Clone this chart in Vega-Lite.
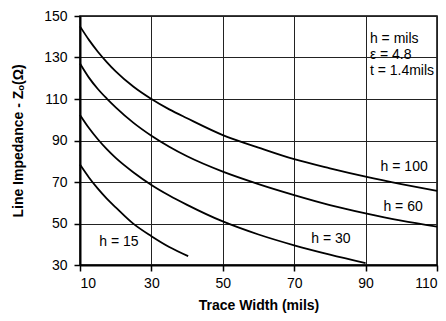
{
  "$schema": "https://vega.github.io/schema/vega-lite/v6.json",
  "width": 357,
  "height": 249,
  "autosize": {"type": "none"},
  "padding": {"left": 80, "top": 16, "right": 9, "bottom": 56},
  "background": "white",
  "config": {
    "font": "Liberation Sans",
    "view": {"stroke": "black", "strokeWidth": 1.5},
    "axis": {
      "domainColor": "black", "domainWidth": 2,
      "gridColor": "#222", "gridWidth": 1, "gridOpacity": 1,
      "tickColor": "black", "tickSize": 6, "tickWidth": 1.5,
      "labelFont": "Liberation Sans", "labelFontSize": 14, "labelColor": "black",
      "titleFont": "Liberation Sans", "titleFontSize": 14, "titleFontWeight": "bold", "titleColor": "black"
    }
  },
  "layer": [
    {
      "data": {"values": [
        {"h": "100", "x": 10, "z": 145},
        {"h": "100", "x": 12.5, "z": 138.5},
        {"h": "100", "x": 15, "z": 132.8},
        {"h": "100", "x": 17.5, "z": 127.8},
        {"h": "100", "x": 20, "z": 123.3},
        {"h": "100", "x": 25, "z": 115.9},
        {"h": "100", "x": 30, "z": 110},
        {"h": "100", "x": 35, "z": 105},
        {"h": "100", "x": 40, "z": 100.7},
        {"h": "100", "x": 50, "z": 92.6},
        {"h": "100", "x": 60, "z": 86.6},
        {"h": "100", "x": 70, "z": 81},
        {"h": "100", "x": 80, "z": 76.6},
        {"h": "100", "x": 90, "z": 72.6},
        {"h": "100", "x": 100, "z": 69},
        {"h": "100", "x": 110, "z": 65.7},
        {"h": "60", "x": 10, "z": 127.1},
        {"h": "60", "x": 12.5, "z": 120.3},
        {"h": "60", "x": 15, "z": 114.8},
        {"h": "60", "x": 17.5, "z": 110.2},
        {"h": "60", "x": 20, "z": 106},
        {"h": "60", "x": 25, "z": 98.5},
        {"h": "60", "x": 30, "z": 92.3},
        {"h": "60", "x": 35, "z": 87},
        {"h": "60", "x": 40, "z": 82.4},
        {"h": "60", "x": 50, "z": 75},
        {"h": "60", "x": 60, "z": 69},
        {"h": "60", "x": 70, "z": 63.7},
        {"h": "60", "x": 80, "z": 58.9},
        {"h": "60", "x": 90, "z": 54.9},
        {"h": "60", "x": 100, "z": 51.4},
        {"h": "60", "x": 110, "z": 48.5},
        {"h": "30", "x": 10, "z": 102.3},
        {"h": "30", "x": 12.5, "z": 96},
        {"h": "30", "x": 15, "z": 90.6},
        {"h": "30", "x": 17.5, "z": 85.8},
        {"h": "30", "x": 20, "z": 81.6},
        {"h": "30", "x": 25, "z": 74.6},
        {"h": "30", "x": 30, "z": 68.6},
        {"h": "30", "x": 35, "z": 63.5},
        {"h": "30", "x": 40, "z": 59},
        {"h": "30", "x": 50, "z": 51},
        {"h": "30", "x": 60, "z": 44.7},
        {"h": "30", "x": 70, "z": 39.5},
        {"h": "30", "x": 80, "z": 35},
        {"h": "30", "x": 90, "z": 30.9},
        {"h": "15", "x": 10, "z": 78.4},
        {"h": "15", "x": 12.5, "z": 72.2},
        {"h": "15", "x": 15, "z": 66.8},
        {"h": "15", "x": 17.5, "z": 62},
        {"h": "15", "x": 20, "z": 57.8},
        {"h": "15", "x": 25, "z": 49.8},
        {"h": "15", "x": 30, "z": 43.9},
        {"h": "15", "x": 35, "z": 38.7},
        {"h": "15", "x": 40.3, "z": 34.3}
      ]},
      "mark": {"type": "line", "interpolate": "monotone", "strokeWidth": 1.8, "color": "black"},
      "encoding": {
        "x": {"field": "x", "type": "quantitative",
              "scale": {"domain": [10, 110], "nice": false, "zero": false},
              "axis": {"values": [10, 30, 50, 70, 90, 110], "title": "Trace Width (mils)", "labelPadding": 5, "titlePadding": 8}},
        "y": {"field": "z", "type": "quantitative",
              "scale": {"domain": [30, 150], "nice": false, "zero": false},
              "axis": {"values": [30, 50, 70, 90, 110, 130, 150], "title": "Line Impedance - Zₒ(Ω)", "labelPadding": 7, "titlePadding": 18}},
        "detail": {"field": "h", "type": "nominal"}
      }
    },
    {
      "data": {"values": [
        {"label": "h = 100", "x": 100.8, "z": 77},
        {"label": "h = 60", "x": 100.5, "z": 58},
        {"label": "h = 30", "x": 80.3, "z": 42.4},
        {"label": "h = 15", "x": 20.9, "z": 41}
      ]},
      "mark": {"type": "text", "fontSize": 14, "color": "black", "align": "center", "baseline": "middle"},
      "encoding": {
        "x": {"field": "x", "type": "quantitative"},
        "y": {"field": "z", "type": "quantitative"},
        "text": {"field": "label"}
      }
    },
    {
      "data": {"values": [
        {"label": "h = mils", "x": 91.2, "z": 138.7},
        {"label": "ε = 4.8", "x": 91.2, "z": 131.1},
        {"label": "t = 1.4mils", "x": 91.2, "z": 123.6}
      ]},
      "mark": {"type": "text", "fontSize": 14, "color": "black", "align": "left", "baseline": "middle"},
      "encoding": {
        "x": {"field": "x", "type": "quantitative"},
        "y": {"field": "z", "type": "quantitative"},
        "text": {"field": "label"}
      }
    }
  ]
}
